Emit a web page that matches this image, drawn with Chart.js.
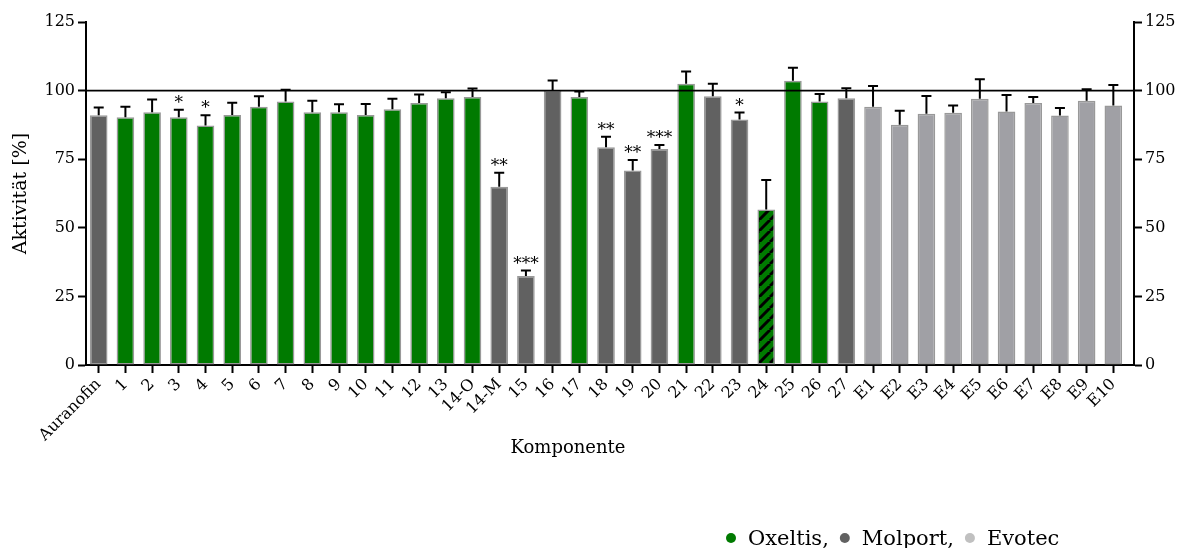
<!DOCTYPE html>
<html>
<head>
<meta charset="utf-8">
<script src="https://cdn.jsdelivr.net/npm/chart.js@4/dist/chart.umd.min.js"></script>
<style>
  html, body { margin: 0; padding: 0; background: #fff; }
</style>
</head>
<body>
<canvas id="activity" width="1184" height="548"></canvas>
<script>
// Data
const labels = ['Auranofin', '1', '2', '3', '4', '5', '6', '7', '8', '9', '10', '11', '12', '13',
  '14-O', '14-M', '15', '16', '17', '18', '19', '20', '21', '22', '23', '24', '25', '26', '27',
  'E1', 'E2', 'E3', 'E4', 'E5', 'E6', 'E7', 'E8', 'E9', 'E10'];
const activity = [91.0, 90.3, 92.1, 90.3, 87.3, 91.1, 94.1, 96.0, 92.1, 92.1, 91.1, 93.2, 95.5, 97.2,
  97.7, 65.0, 32.4, 100.1, 97.7, 79.4, 70.9, 78.7, 102.5, 97.9, 89.5, 56.7, 103.6, 96.0, 97.2,
  94.1, 87.6, 91.6, 91.9, 97.0, 92.4, 95.5, 90.9, 96.3, 94.6];
const errors = [2.8, 3.8, 4.7, 2.7, 3.7, 4.5, 3.8, 4.3, 4.2, 2.9, 4.0, 3.8, 3.1, 2.2,
  3.1, 5.1, 2.0, 3.6, 2.0, 3.8, 3.8, 1.5, 4.5, 4.6, 2.5, 10.7, 4.7, 2.8, 3.7,
  7.6, 5.1, 6.4, 2.7, 7.1, 6.0, 2.2, 2.8, 4.2, 7.4];
const stars = ['', '', '', '*', '*', '', '', '', '', '', '', '', '', '',
  '', '**', '***', '', '', '**', '**', '***', '', '', '*', '', '', '', '',
  '', '', '', '', '', '', '', '', '', ''];
// O = Oxeltis, M = Molport, E = Evotec, H = Oxeltis (hatched)
const source = ['M', 'O', 'O', 'O', 'O', 'O', 'O', 'O', 'O', 'O', 'O', 'O', 'O', 'O',
  'O', 'M', 'M', 'M', 'O', 'M', 'M', 'M', 'O', 'M', 'M', 'H', 'O', 'O', 'M',
  'E', 'E', 'E', 'E', 'E', 'E', 'E', 'E', 'E', 'E'];
const yTicks = [0, 25, 50, 75, 100, 125];
const legendNames = ['Oxeltis,', 'Molport,', 'Evotec'];

const GREEN = '#007a00';
const DARK = '#616161';
const LIGHT = '#a0a0a5';
const FONT = "'DejaVu Serif', serif";

// diagonal hatch for the striped bar
function hatch() {
  const s = 11;
  const c = document.createElement('canvas');
  c.width = s; c.height = s;
  const g = c.getContext('2d');
  g.fillStyle = GREEN;
  g.fillRect(0, 0, s, s);
  g.strokeStyle = '#000';
  g.lineWidth = 3;
  g.beginPath();
  for (const o of [-s, 0, s]) {
    g.moveTo(o, s);
    g.lineTo(o + s, 0);
  }
  g.stroke();
  return g.createPattern(c, 'repeat');
}
const hatchFill = hatch();
const colorOf = { O: GREEN, M: DARK, E: LIGHT, H: hatchFill };

// error bars, significance stars, 100 % line, x title, legend
const extras = {
  id: 'extras',
  afterLayout(chart) {
    // stretch category spacing so the bars fill the framed area like the original
    const x = chart.scales.x;
    x._startValue = -0.476;
    x._valueRange = 39.25;
  },
  afterDatasetsDraw(chart) {
    const { ctx, chartArea, scales: { x, y } } = chart;
    ctx.save();
    ctx.strokeStyle = '#000';
    ctx.lineWidth = 1.6;
    // reference line at 100
    const y100 = y.getPixelForValue(100);
    ctx.beginPath();
    ctx.moveTo(chartArea.left, y100);
    ctx.lineTo(chartArea.right, y100);
    ctx.stroke();

    ctx.lineWidth = 2;
    ctx.fillStyle = '#000';
    ctx.font = '17px ' + FONT;
    ctx.textAlign = 'center';
    ctx.textBaseline = 'alphabetic';
    activity.forEach((v, i) => {
      const px = x.getPixelForValue(i);
      const top = y.getPixelForValue(v);
      const cap = y.getPixelForValue(v + errors[i]);
      ctx.beginPath();
      ctx.moveTo(px, top);
      ctx.lineTo(px, cap);
      ctx.moveTo(px - 5, cap);
      ctx.lineTo(px + 5, cap);
      ctx.stroke();
      if (stars[i]) ctx.fillText(stars[i], px, cap - 2);
    });

    // x axis title
    ctx.font = '18px ' + FONT;
    ctx.textBaseline = 'middle';
    ctx.fillText('Komponente', 568, 448);

    // legend
    ctx.font = '21px ' + FONT;
    ctx.textAlign = 'left';
    ctx.textBaseline = 'alphabetic';
    const dots = [GREEN, DARK, '#c0c0c0'];
    let lx = 731;
    legendNames.forEach((name, i) => {
      ctx.fillStyle = dots[i];
      ctx.beginPath();
      ctx.arc(lx, 538, 5, 0, Math.PI * 2);
      ctx.fill();
      ctx.fillStyle = '#000';
      ctx.fillText(name, lx + 17, 545);
      lx += 17 + ctx.measureText(name).width + 16;
    });
    ctx.restore();
  }
};

const yAxis = (position, width) => ({
  position: position,
  min: 0,
  max: 125,
  afterBuildTicks: (scale) => { scale.ticks = yTicks.map(v => ({ value: v })); },
  afterFit: (scale) => { scale.width = width; },
  border: { display: true, color: '#000', width: 2 },
  grid: { drawOnChartArea: false, tickLength: 8, tickWidth: 2, tickColor: '#000' },
  ticks: { color: '#000', padding: 3, font: { family: FONT, size: 16 } }
});

const leftAxis = yAxis('left', 86);
leftAxis.title = {
  display: true,
  text: 'Aktivität [%]',
  color: '#000',
  font: { family: FONT, size: 19 },
  padding: { top: 10, bottom: 0 }
};

new Chart(document.getElementById('activity'), {
  type: 'bar',
  data: {
    labels: labels,
    datasets: [{
      data: activity,
      backgroundColor: source.map(s => colorOf[s]),
      borderColor: '#999999',
      borderWidth: 1.5,
      borderSkipped: false,
      barPercentage: 0.66,
      categoryPercentage: 1.0
    }]
  },
  options: {
    responsive: false,
    animation: false,
    layout: { padding: { top: 22, left: 0, right: 0, bottom: 0 } },
    plugins: {
      legend: { display: false },
      tooltip: { enabled: false }
    },
    scales: {
      x: {
        afterFit: (scale) => { scale.height = 183; },
        border: { display: true, color: '#000', width: 2 },
        grid: { offset: false, drawOnChartArea: false, tickLength: 8, tickWidth: 2, tickColor: '#000' },
        ticks: {
          color: '#000',
          autoSkip: false,
          minRotation: 45,
          maxRotation: 45,
          padding: 2,
          font: { family: FONT, size: 16 }
        }
      },
      y: leftAxis,
      y2: yAxis('right', 50)
    }
  },
  plugins: [extras]
});
</script>
</body>
</html>
